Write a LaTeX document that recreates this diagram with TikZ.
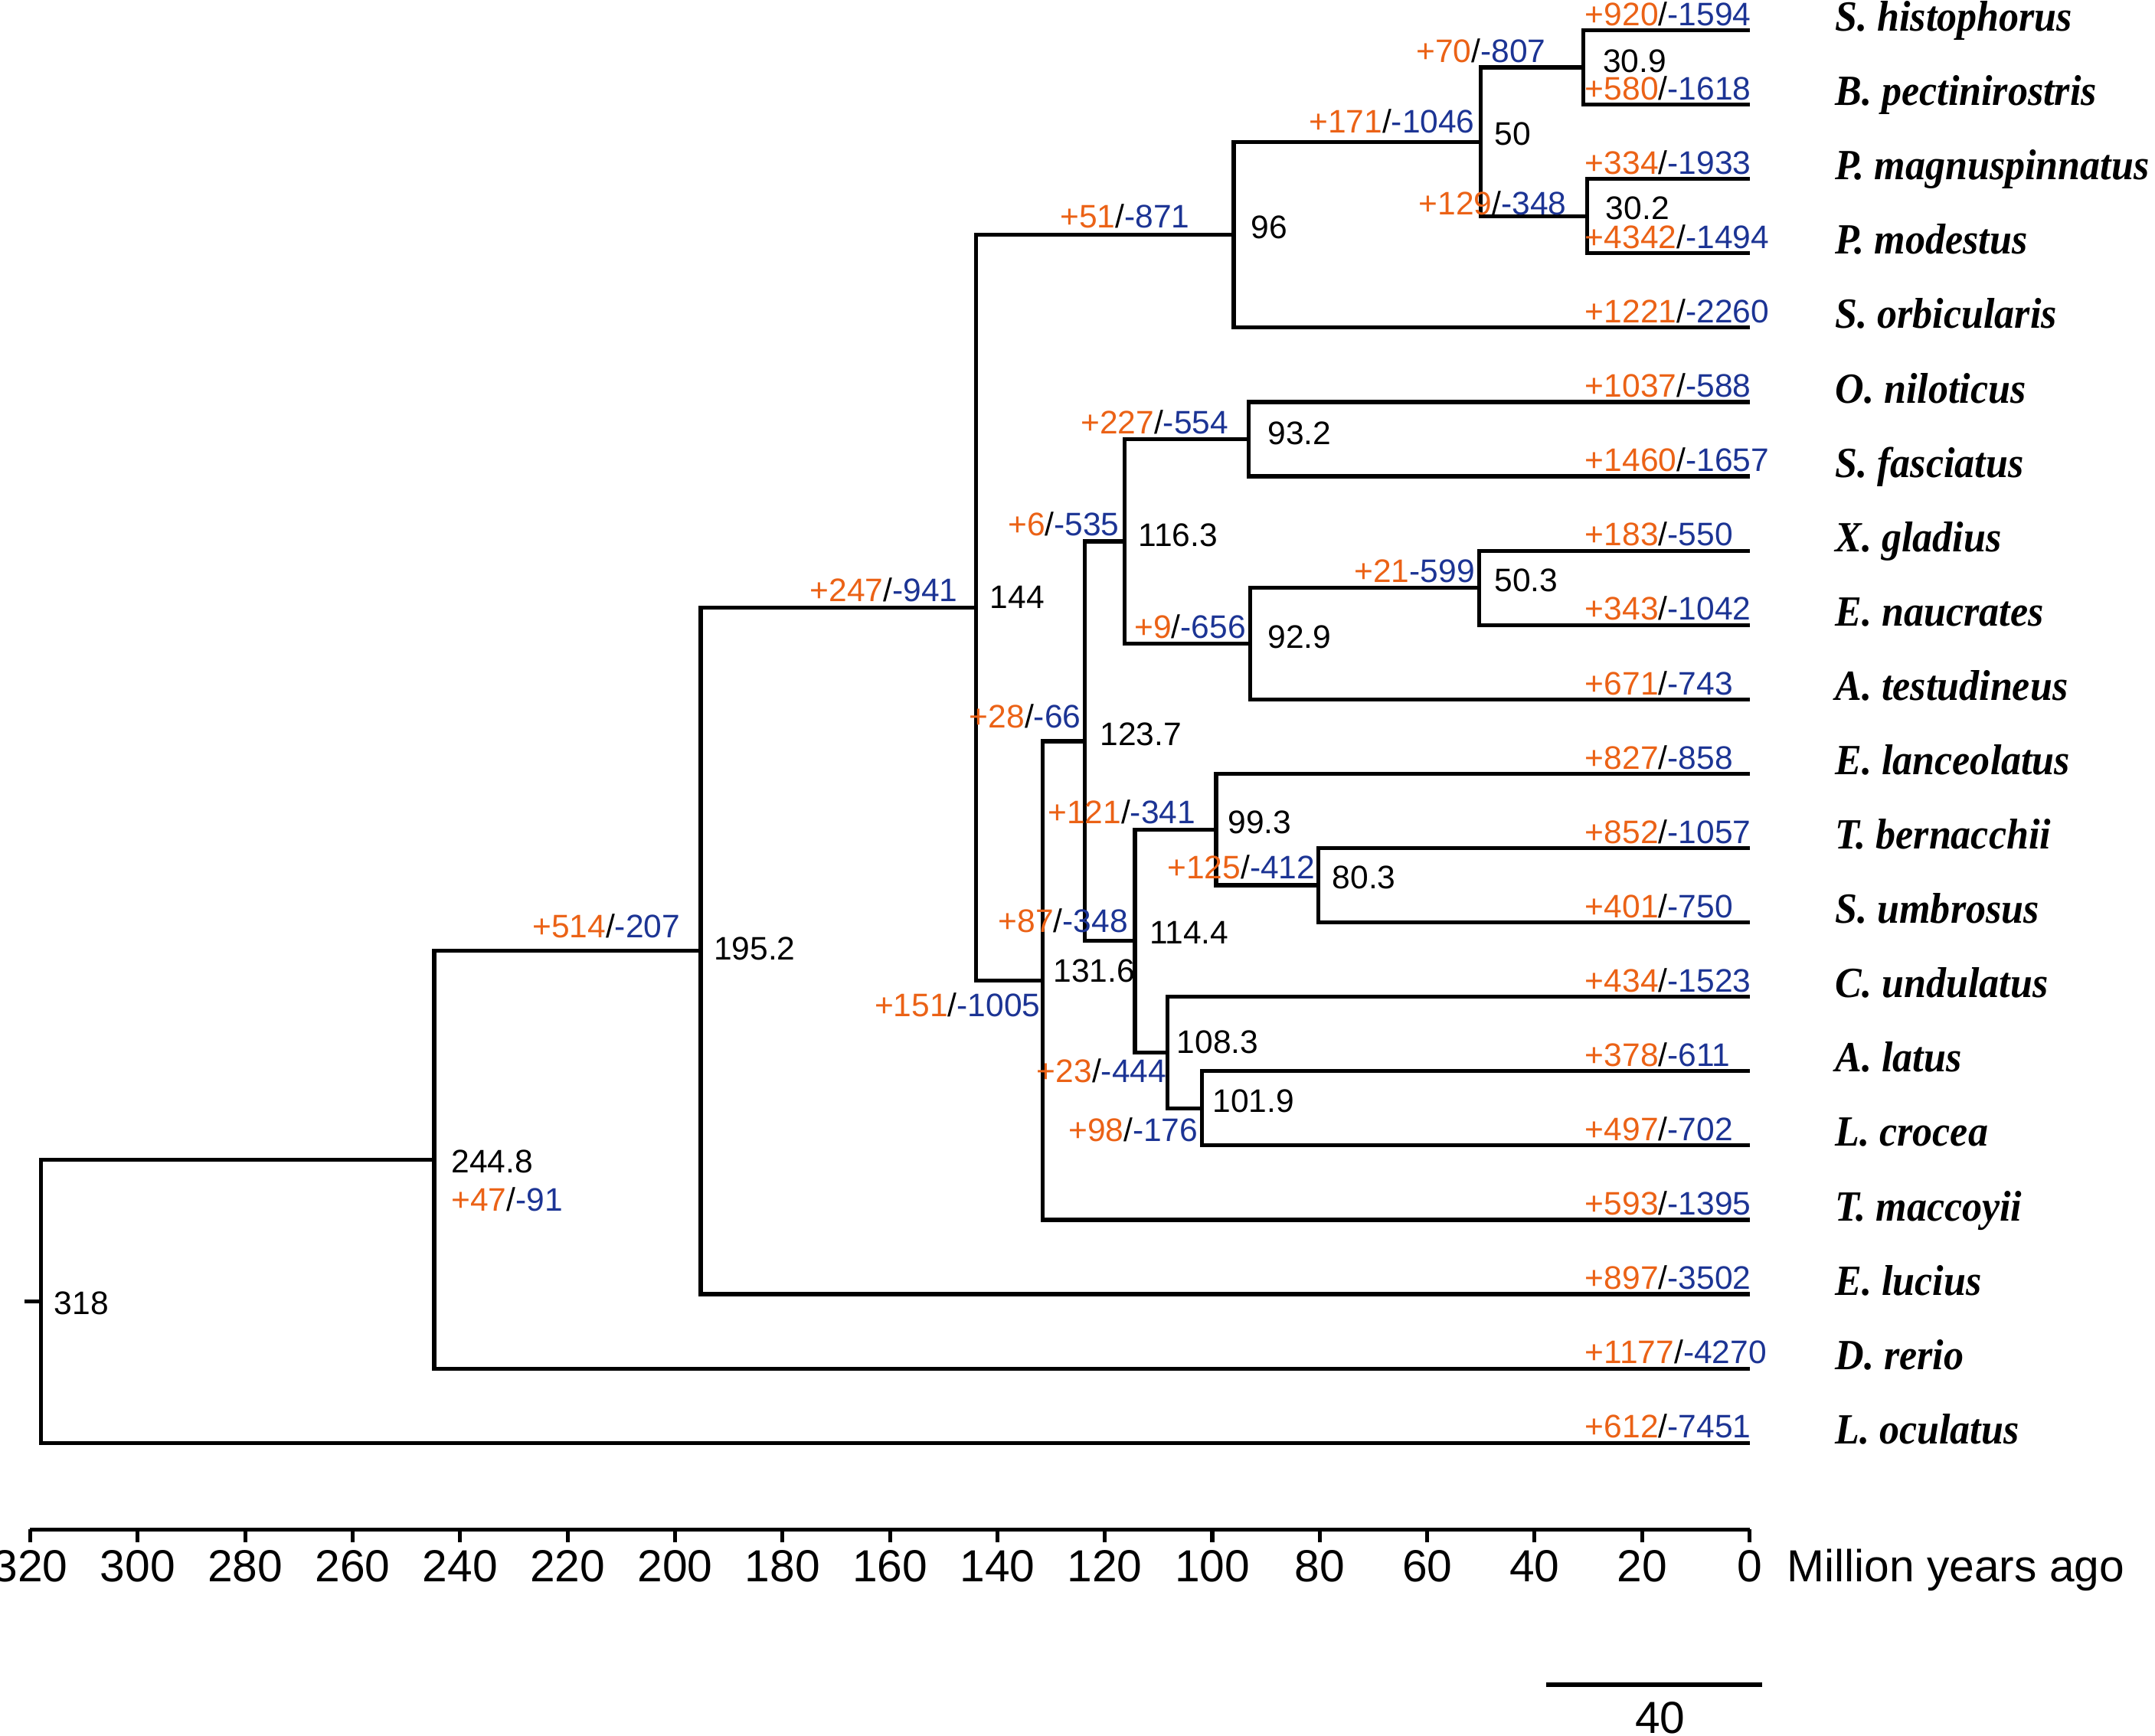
\documentclass[tikz,border=0pt]{standalone}
\usepackage{fontspec}
\setmainfont{Liberation Sans}
\newfontfamily\spfont{Liberation Serif}
\usetikzlibrary{calc}
\definecolor{gorange}{RGB}{235,98,22}
\definecolor{gblue}{RGB}{28,52,148}
\newcommand{\GL}[2]{\textcolor{gorange}{+#1}/\textcolor{gblue}{-#2}}
\newcommand{\SPN}[1]{\scalebox{1}[1.08]{#1}}
\begin{document}
\begin{tikzpicture}[x=0.5pt,y=-0.5pt,
  branch/.style={line width=1.45pt, line join=miter},
  lab/.style={inner sep=0pt, anchor=base west, font=\fontsize{11.85}{13}\selectfont},
  species/.style={inner sep=0pt, anchor=base west, font=\fontsize{14.5}{16}\spfont\bfseries\itshape},
  axlab/.style={inner sep=0pt, anchor=base, font=\fontsize{16.35}{18}\selectfont}]
\useasboundingbox (0,0) rectangle (1568,1263);

% tips
\foreach \i in {0,...,19} \coordinate (tip\i) at (1273,{22+54.1*\i});

% internal nodes (x from time in Myr)
\coordinate (n309)  at ({1273-3.9094*30.9},49.05);
\coordinate (n302)  at ({1273-3.9094*30.2},157.25);
\coordinate (n50)   at ({1273-3.9094*50},103.15);
\coordinate (n96)   at ({1273-3.9094*96},170.78);
\coordinate (n932)  at ({1273-3.9094*93.2},319.55);
\coordinate (n503)  at ({1273-3.9094*50.3},427.75);
\coordinate (n929)  at ({1273-3.9094*92.9},468.33);
\coordinate (n1163) at ({1273-3.9094*116.3},393.94);
\coordinate (n803)  at ({1273-3.9094*80.3},644.15);
\coordinate (n993)  at ({1273-3.9094*99.3},603.58);
\coordinate (n1019) at ({1273-3.9094*101.9},806.45);
\coordinate (n1083) at ({1273-3.9094*108.3},765.88);
\coordinate (n1144) at ({1273-3.9094*114.4},684.73);
\coordinate (n1237) at ({1273-3.9094*123.7},539.34);
\coordinate (n1316) at ({1273-3.9094*131.6},713.47);
\coordinate (n144)  at ({1273-3.9094*144},442.13);
\coordinate (n1952) at ({1273-3.9094*195.2},691.91);
\coordinate (n2448) at ({1273-3.9094*244.8},843.86);
\coordinate (n318)  at ({1273-3.9094*318},946.88);
\coordinate (rootstub) at (18,946.88);

\draw[branch] (rootstub) -- (n318);
\draw[branch] (n318) |- (n2448);  \draw[branch] (n318) |- (tip19);
\draw[branch] (n2448) |- (n1952); \draw[branch] (n2448) |- (tip18);
\draw[branch] (n1952) |- (n144);  \draw[branch] (n1952) |- (tip17);
\draw[branch] (n144) |- (n96);    \draw[branch] (n144) |- (n1316);
\draw[branch] (n96) |- (n50);     \draw[branch] (n96) |- (tip4);
\draw[branch] (n50) |- (n309);    \draw[branch] (n50) |- (n302);
\draw[branch] (n309) |- (tip0);   \draw[branch] (n309) |- (tip1);
\draw[branch] (n302) |- (tip2);   \draw[branch] (n302) |- (tip3);
\draw[branch] (n1316) |- (n1237); \draw[branch] (n1316) |- (tip16);
\draw[branch] (n1237) |- (n1163); \draw[branch] (n1237) |- (n1144);
\draw[branch] (n1163) |- (n932);  \draw[branch] (n1163) |- (n929);
\draw[branch] (n932) |- (tip5);   \draw[branch] (n932) |- (tip6);
\draw[branch] (n929) |- (n503);   \draw[branch] (n929) |- (tip9);
\draw[branch] (n503) |- (tip7);   \draw[branch] (n503) |- (tip8);
\draw[branch] (n1144) |- (n993);  \draw[branch] (n1144) |- (n1083);
\draw[branch] (n993) |- (tip10);  \draw[branch] (n993) |- (n803);
\draw[branch] (n803) |- (tip11);  \draw[branch] (n803) |- (tip12);
\draw[branch] (n1083) |- (tip13); \draw[branch] (n1083) |- (n1019);
\draw[branch] (n1019) |- (tip14); \draw[branch] (n1019) |- (tip15);

% species names
\foreach \i/\name in {0/S. histophorus,1/B. pectinirostris,2/P. magnuspinnatus,3/P. modestus,
  4/S. orbicularis,5/O. niloticus,6/S. fasciatus,7/X. gladius,8/E. naucrates,9/A. testudineus,
  10/E. lanceolatus,11/T. bernacchii,12/S. umbrosus,13/C. undulatus,14/A. latus,15/L. crocea,
  16/T. maccoyii,17/E. lucius,18/D. rerio,19/L. oculatus}
  \node[species] (sp\i) at (1335,{22.6+54.1*\i}) {\SPN{\name}};

% tip gain/loss
\foreach \i/\g/\l in {0/920/1594,1/580/1618,2/334/1933,3/4342/1494,4/1221/2260,5/1037/588,
  6/1460/1657,7/183/550,8/343/1042,9/671/743,10/827/858,11/852/1057,12/401/750,13/434/1523,
  14/378/611,15/497/702,16/593/1395,17/897/3502,18/1177/4270,19/612/7451}
  \node[lab] (gl\i) at (1153,{18.5+54.1*\i}) {\GL{\g}{\l}};

% internal node ages
\node[lab] (a318)  at (39,956.5)  {318};
\node[lab] (a2448) at (328,853.5) {244.8};
\node[lab] (a1952) at (519,698.5) {195.2};
\node[lab] (a144)  at (720,442.5) {144};
\node[lab] (a96)   at (910,173.5) {96};
\node[lab] (a50)   at (1087,105.5) {50};
\node[lab] (a309)  at (1166,52.5) {30.9};
\node[lab] (a302)  at (1168,159.5) {30.2};
\node[lab] (a932)  at (922,323.5) {93.2};
\node[lab] (a1163) at (828,397.5) {116.3};
\node[lab] (a503)  at (1087,430.5) {50.3};
\node[lab] (a929)  at (922,471.5) {92.9};
\node[lab] (a1237) at (800,542.5) {123.7};
\node[lab] (a993)  at (893,606.5) {99.3};
\node[lab] (a803)  at (969,646.5) {80.3};
\node[lab] (a1144) at (836,686.5) {114.4};
\node[lab] (a1316) at (766,714.5) {131.6};
\node[lab] (a1083) at (856,766.5) {108.3};
\node[lab] (a1019) at (882,809.5) {101.9};

% internal branch gain/loss
\node[lab] (e309)  at (1030,45.5)  {\GL{70}{807}};
\node[lab] (e50)   at (952,96.5)   {\GL{171}{1046}};
\node[lab] (e302)  at (1032,156.5) {\GL{129}{348}};
\node[lab] (e96)   at (771,165.5)  {\GL{51}{871}};
\node[lab] (e932)  at (786,315.5)  {\GL{227}{554}};
\node[lab] (e1163) at (733,389.5)  {\GL{6}{535}};
\node[lab] (e503)  at (985,423.5)  {\textcolor{gorange}{+21}\textcolor{gblue}{-599}};
\node[lab] (e929)  at (825,464.5)  {\GL{9}{656}};
\node[lab] (e144)  at (589,437.5)  {\GL{247}{941}};
\node[lab] (e1237) at (705,529.5)  {\GL{28}{66}};
\node[lab] (e993)  at (762,599.5)  {\GL{121}{341}};
\node[lab] (e803)  at (849,639.5)  {\GL{125}{412}};
\node[lab] (e1144) at (726,678.5)  {\GL{87}{348}};
\node[lab] (e1952) at (387,682.5)  {\GL{514}{207}};
\node[lab] (e1316) at (636,739.5)  {\GL{151}{1005}};
\node[lab] (e1083) at (754,787.5)  {\GL{23}{444}};
\node[lab] (e1019) at (777,830.5)  {\GL{98}{176}};
\node[lab] (e2448) at (328,881.5)  {\GL{47}{91}};

% time axis
\coordinate (axL) at (22,1113);
\coordinate (axR) at (1273,1113);
\draw[line width=1.6pt] (axL) -- (axR);
\foreach \t in {0,20,...,320} {
  \coordinate (tk\t) at ({1273-3.9094*\t},1113);
  \draw[line width=1.4pt] (tk\t) -- ++(0,9);
  \node[axlab] (tl\t) at ({1273-3.9094*\t},1150.7) {\t};
}
\node[axlab, anchor=base west] (axtitle) at (1300,1150.7) {Million years ago};

% scale bar
\coordinate (sbL) at (1125,1226);
\coordinate (sbR) at (1282,1226);
\draw[line width=1.6pt] (sbL) -- (sbR);
\node[axlab] (sbl) at (1208,1261) {40};
\end{tikzpicture}
\end{document}
